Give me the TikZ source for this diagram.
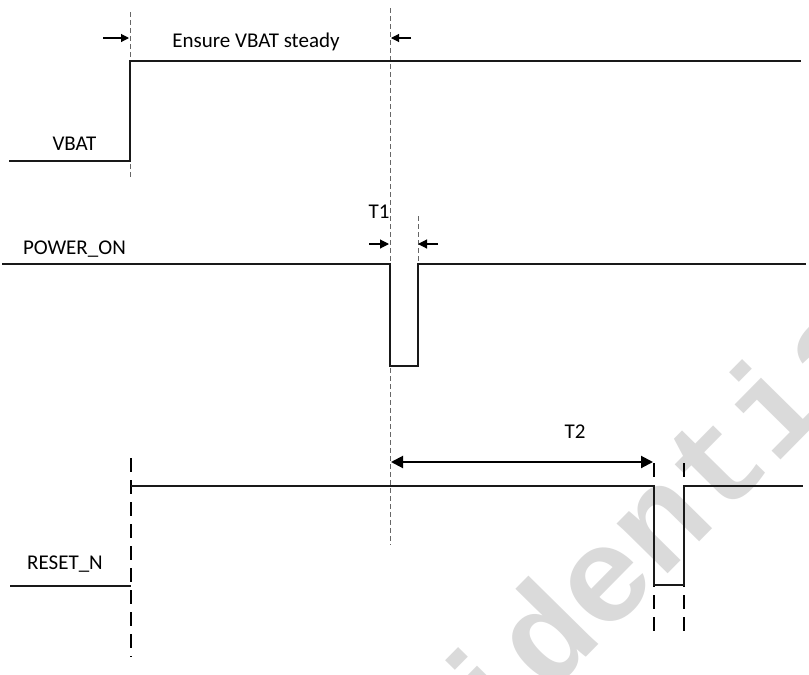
\documentclass[tikz,border=0pt]{standalone}
\usepackage{fontspec}
\setmainfont{Carlito}
\newfontfamily\wmfont{Liberation Mono}
\usetikzlibrary{arrows.meta}
\definecolor{wmgray}{RGB}{218,218,218}
\definecolor{sig}{RGB}{25,25,25}
\begin{document}
\begin{tikzpicture}[x=1pt,y=-1pt,
  lbl/.style={font=\fontsize{21}{21}\selectfont, anchor=base, inner sep=0pt, text=black},
  wave/.style={draw=sig, line width=1.4pt, line join=miter},
  guide/.style={draw=black!60, line width=0.8pt, dash pattern=on 5pt off 3pt},
  edgemark/.style={draw=black, line width=2.2pt, dash pattern=on 14pt off 8pt},
  small/.style={draw=black, line width=1.1pt, -{Triangle[length=8pt,width=8pt]}},
  mid/.style={draw=black, line width=1.1pt, -{Triangle[length=9pt,width=9pt]}},
  span/.style={draw=black, line width=2pt, {Triangle[length=12pt,width=12pt]}-{Triangle[length=12pt,width=12pt]}},
  wm/.style={font=\wmfont\bfseries\fontsize{135}{135}\selectfont, text=wmgray, inner sep=0pt}]
\useasboundingbox (0,0) rectangle (809,675);
\fill[white] (0,0) rectangle (809,675);
% watermark
\begin{scope}
\clip (0,0) rectangle (809,675);
\node[wm, rotate=45.4, anchor=base] (mark) at (605,638) {Confidential};
\end{scope}
% guides
\draw[guide] (130,12) -- (130,178);
\draw[guide] (390,8) -- (390,545);
\draw[guide] (418,216) -- (418,264);
% VBAT
\draw[wave] (9,161) -- (130,161) -- (130,61) -- (801,61);
\node[lbl] (vbat) at (74.5,150) {VBAT};
\coordinate (ea1) at (103,38); \coordinate (ea2) at (129,38);
\coordinate (eb1) at (411,38); \coordinate (eb2) at (391,38);
\draw[small] (ea1) -- (ea2);
\draw[small] (eb1) -- (eb2);
\node[lbl] (steady) at (256,47) {Ensure VBAT steady};
% POWER_ON
\draw[wave] (2,264) -- (390,264) -- (390,366) -- (418,366) -- (418,264) -- (806,264);
\node[lbl] (pon) at (74.4,254) {POWER\_ON};
\node[lbl] (t1) at (379,218) {T1};
\coordinate (ta1) at (369,244); \coordinate (ta2) at (389,244);
\coordinate (tb1) at (438,244); \coordinate (tb2) at (418,244);
\draw[mid] (ta1) -- (ta2);
\draw[mid] (tb1) -- (tb2);
% RESET_N
\draw[edgemark] (131,458) -- (131,657);
\draw[edgemark] (654,463) -- (654,638);
\draw[edgemark] (684,463) -- (684,638);
\draw[wave] (10,586) -- (131,586);
\draw[wave] (131,486) -- (654,486) -- (654,585) -- (684,585) -- (684,486) -- (803,486);
\node[lbl] (rst) at (65,569) {RESET\_N};
\node[lbl] (t2) at (575,438) {T2};
\coordinate (s1) at (391,462); \coordinate (s2) at (653,462);
\draw[span] (s1) -- (s2);
\end{tikzpicture}
\end{document}
